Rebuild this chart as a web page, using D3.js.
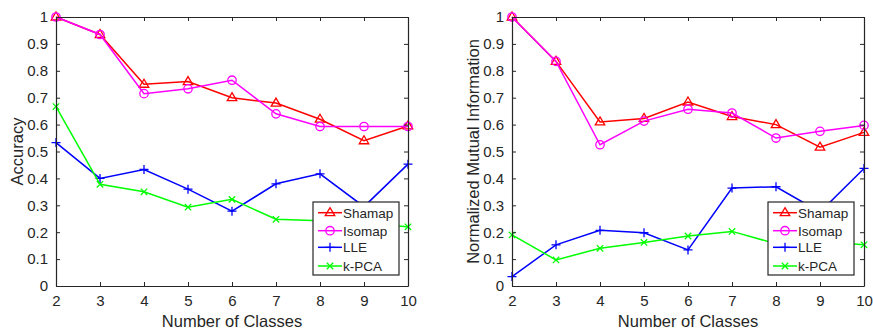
<!DOCTYPE html>
<html>
<head>
<meta charset="utf-8">
<script src="https://cdn.jsdelivr.net/npm/d3@7"></script>
<style>
  html, body { margin: 0; padding: 0; background: #fff; }
  svg { display: block; font-family: "Liberation Sans", Arial, Helvetica, sans-serif; }
</style>
</head>
<body>
<svg id="chart" width="873" height="331"></svg>
<script>
// Number of classes on the x axis
const classes = [2, 3, 4, 5, 6, 7, 8, 9, 10];
const yTicks = [0, 0.1, 0.2, 0.3, 0.4, 0.5, 0.6, 0.7, 0.8, 0.9, 1];
const methods = ["Shamap", "Isomap", "LLE", "k-PCA"];

// Classification accuracy per method
const accShamap = [1.0, 0.935, 0.75, 0.76, 0.70, 0.68, 0.62, 0.54, 0.595];
const accIsomap = [1.0, 0.935, 0.715, 0.733, 0.765, 0.64, 0.593, 0.593, 0.593];
const accLLE    = [0.533, 0.40, 0.433, 0.36, 0.278, 0.38, 0.417, 0.295, 0.453];
const accKPCA   = [0.667, 0.378, 0.35, 0.293, 0.322, 0.248, 0.243, 0.232, 0.22];

// Normalized mutual information per method
const nmiShamap = [1.0, 0.835, 0.61, 0.623, 0.684, 0.63, 0.60, 0.516, 0.571];
const nmiIsomap = [1.0, 0.835, 0.525, 0.613, 0.657, 0.643, 0.55, 0.575, 0.597];
const nmiLLE    = [0.035, 0.153, 0.207, 0.198, 0.134, 0.364, 0.369, 0.275, 0.437];
const nmiKPCA   = [0.19, 0.097, 0.14, 0.162, 0.186, 0.203, 0.157, 0.165, 0.153];

const colors = { "Shamap": "#ff0000", "Isomap": "#ff00ff", "LLE": "#0000ff", "k-PCA": "#00ff00" };
const axisColor = "#262626";

const svg = d3.select("#chart");

function drawMarker(g, name, x, y) {
  const c = colors[name];
  if (name === "Shamap") {
    const s = 5;
    g.append("path")
      .attr("d", `M${x},${y - s} L${x + s * 0.95},${y + s * 0.6} L${x - s * 0.95},${y + s * 0.6} Z`)
      .attr("fill", "none").attr("stroke", c).attr("stroke-width", 1.3);
  } else if (name === "Isomap") {
    g.append("circle").attr("cx", x).attr("cy", y).attr("r", 4.2)
      .attr("fill", "none").attr("stroke", c).attr("stroke-width", 1.3);
  } else if (name === "LLE") {
    const s = 4.5;
    g.append("path").attr("d", `M${x - s},${y} H${x + s} M${x},${y - s} V${y + s}`)
      .attr("stroke", c).attr("stroke-width", 1.3);
  } else {
    const s = 3.2;
    g.append("path").attr("d", `M${x - s},${y - s} L${x + s},${y + s} M${x - s},${y + s} L${x + s},${y - s}`)
      .attr("stroke", c).attr("stroke-width", 1.3);
  }
}

function drawPanel(opts) {
  const { left, right, top, bottom, series, yLabel, labelX, legendX } = opts;
  const x = d3.scaleLinear().domain([2, 10]).range([left, right]);
  const y = d3.scaleLinear().domain([0, 1]).range([bottom, top]);
  const g = svg.append("g");

  // Series lines and markers
  methods.forEach((m, i) => {
    const vals = series[i];
    const line = d3.line().x((d, j) => x(classes[j])).y(d => y(d));
    g.append("path").datum(vals).attr("d", line)
      .attr("fill", "none").attr("stroke", colors[m]).attr("stroke-width", 1.5);
    const mg = g.append("g");
    vals.forEach((v, j) => drawMarker(mg, m, x(classes[j]), y(v)));
  });

  // Axes with inward ticks on all four sides
  const tl = 4;
  const bottomAxis = d3.axisBottom(x).tickValues(classes).tickSizeInner(-tl).tickSizeOuter(0).tickPadding(9).tickFormat(d3.format("d"));
  const topAxis = d3.axisTop(x).tickValues(classes).tickSizeInner(-tl).tickSizeOuter(0).tickFormat("");
  const leftAxis = d3.axisLeft(y).tickValues(yTicks).tickSizeInner(-tl).tickSizeOuter(0).tickPadding(8).tickFormat(d => d === 0 || d === 1 ? d3.format("d")(d) : d3.format(".1f")(d));
  const rightAxis = d3.axisRight(y).tickValues(yTicks).tickSizeInner(-tl).tickSizeOuter(0).tickFormat("");

  const axes = [
    g.append("g").attr("transform", `translate(0,${bottom})`).call(bottomAxis),
    g.append("g").attr("transform", `translate(0,${top})`).call(topAxis),
    g.append("g").attr("transform", `translate(${left},0)`).call(leftAxis),
    g.append("g").attr("transform", `translate(${right},0)`).call(rightAxis)
  ];
  axes.forEach(a => {
    a.select(".domain").attr("stroke", axisColor).attr("stroke-width", 1.2);
    a.selectAll(".tick line").attr("stroke", axisColor).attr("stroke-width", 1);
    a.selectAll(".tick text").attr("fill", axisColor).attr("font-size", 15).attr("font-family", "Liberation Sans, Arial, sans-serif");
  });

  // Axis titles
  g.append("text").attr("x", (left + right) / 2).attr("y", 327)
    .attr("text-anchor", "middle").attr("font-size", 16.5).attr("fill", axisColor)
    .text("Number of Classes");
  g.append("text").attr("transform", `translate(${labelX},${(top + bottom) / 2}) rotate(-90)`)
    .attr("text-anchor", "middle").attr("font-size", 16.5).attr("fill", axisColor)
    .text(yLabel);

  // Legend
  const lw = 86, lh = 73, ltop = 202;
  const lg = g.append("g").attr("transform", `translate(${legendX},${ltop})`);
  lg.append("rect").attr("width", lw).attr("height", lh)
    .attr("fill", "#fff").attr("stroke", axisColor).attr("stroke-width", 1.2);
  const rowY = [10.7, 28.7, 45.3, 64];
  methods.forEach((m, i) => {
    const ry = rowY[i];
    lg.append("line").attr("x1", 5).attr("x2", 29).attr("y1", ry).attr("y2", ry)
      .attr("stroke", colors[m]).attr("stroke-width", 1.5);
    drawMarker(lg, m, 17, ry);
    lg.append("text").attr("x", 30).attr("y", ry + 5).attr("font-size", 13.5)
      .attr("fill", axisColor).text(m);
  });
}

drawPanel({
  left: 56, right: 408, top: 17, bottom: 286,
  series: [accShamap, accIsomap, accLLE, accKPCA],
  yLabel: "Accuracy", labelX: 23, legendX: 313
});

drawPanel({
  left: 512, right: 864, top: 17, bottom: 286,
  series: [nmiShamap, nmiIsomap, nmiLLE, nmiKPCA],
  yLabel: "Normalized Mutual Information", labelX: 479, legendX: 768
});
</script>
</body>
</html>
